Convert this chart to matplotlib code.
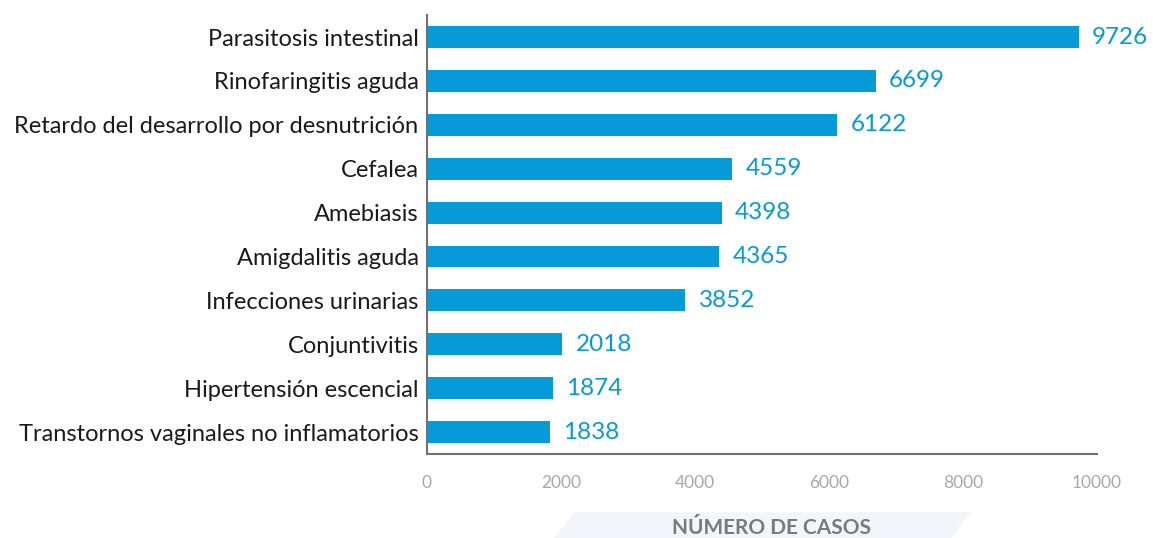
import matplotlib.pyplot as plt
from matplotlib.patches import Polygon

categorias = ['Parasitosis intestinal', 'Rinofaringitis aguda',
              'Retardo del desarrollo por desnutrición', 'Cefalea', 'Amebiasis',
              'Amigdalitis aguda', 'Infecciones urinarias', 'Conjuntivitis',
              'Hipertensión escencial', 'Transtornos vaginales no inflamatorios']
casos = [9726, 6699, 6122, 4559, 4398, 4365, 3852, 2018, 1874, 1838]
xticks = [0, 2000, 4000, 6000, 8000, 10000]

azul = '#069bd8'
plt.rcParams['font.family'] = ['Lato', 'DejaVu Sans']

fig = plt.figure(figsize=(11.53, 5.38), dpi=100)
ax = fig.add_axes([0.3703, 0.156, 0.5811, 0.816])

y = list(range(len(categorias)))[::-1]
ax.barh(y, casos, height=0.5, color=azul)
for yi, v in zip(y, casos):
    ax.text(v + 200, yi, str(v), va='center', ha='left', color=azul,
            fontsize=17.5)

ax.set_yticks(y)
ax.set_yticklabels(categorias, fontsize=17, color='#1a1a1a')
ax.set_xticks(xticks)
ax.set_xticklabels([str(t) for t in xticks], fontsize=12.5, color='#a8a8a8')
ax.set_xlim(0, 10000)
ax.set_ylim(-0.5, 9.5)
ax.tick_params(axis='both', length=0)
ax.tick_params(axis='x', pad=15)
ax.tick_params(axis='y', pad=6)
for s in ['top', 'right']:
    ax.spines[s].set_visible(False)
for s in ['left', 'bottom']:
    ax.spines[s].set_color('#707070')
    ax.spines[s].set_linewidth(1.5)

# banda de fondo del título del eje
W, H = 1153, 538
pts = [(555, 538), (575, 513), (970, 513), (950, 538)]
band = Polygon([(px / W, 1 - py / H) for px, py in pts], closed=True,
               transform=fig.transFigure, color='#f2f6fa', zorder=0)
fig.patches.append(band)
fig.text(771 / W, 1 - 528 / H, 'NÚMERO DE CASOS', ha='center', va='center',
         fontsize=15, fontweight='bold', color='#7a7a7a')

fig.savefig('out.png', dpi=100)
